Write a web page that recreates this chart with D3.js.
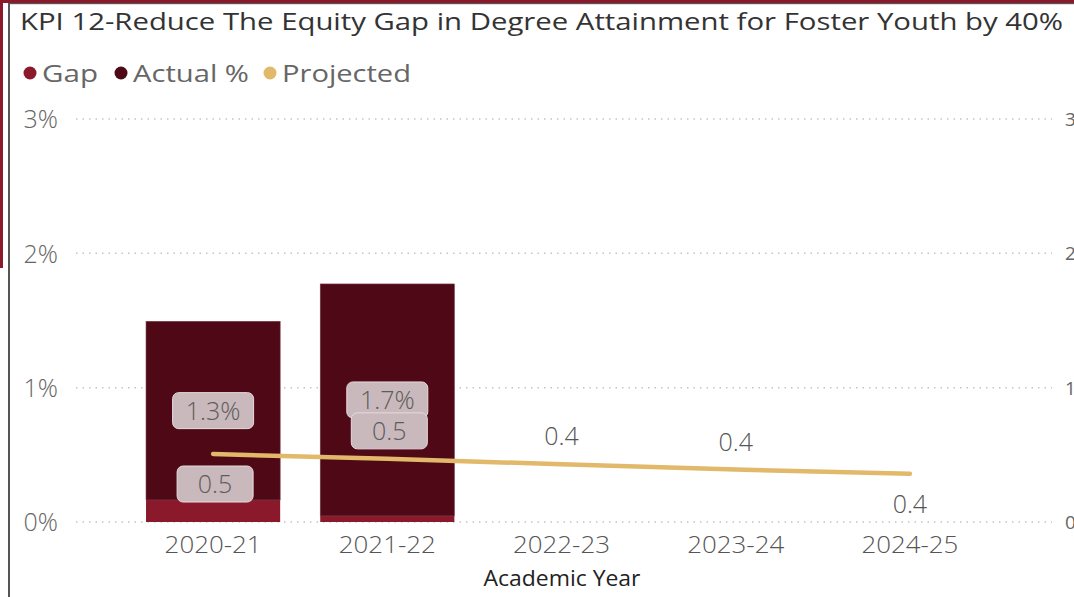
<!DOCTYPE html>
<html><head><meta charset="utf-8">
<script src="https://cdn.jsdelivr.net/npm/d3@7"></script>
<style>
html,body{margin:0;padding:0;background:#fff;}
svg{display:block;}
text{font-family:"Open Sans","Noto Sans",sans-serif;}
</style></head>
<body>
<script>
const categories = ["2020-21","2021-22","2022-23","2023-24","2024-25"];
const gapValues = [0.164, 0.045, null, null, null];
const actualValues = [1.33, 1.727, null, null, null];
const actualLabels = ["1.3%","1.7%",null,null,null];
const projectedValues = [0.506, 0.47, 0.43, 0.39, 0.36];
const projectedLabelPos = ["below","above","above","above","below"];
const yTicks = [0,1,2,3];
const titleText = "KPI 12-Reduce The Equity Gap in Degree Attainment for Foster Youth by 40%";
const legendItems = ["Gap","Actual %","Projected"];
const xAxisTitle = "Academic Year";

const W=1074,H=597;
const colGap="#8a1a2b", colActual="#4f0816", colProj="#e2b86a";
const svg=d3.select("body").append("svg").attr("width",W).attr("height",H);

// frame decorations
svg.append("rect").attr("x",0).attr("y",0).attr("width",W).attr("height",3).attr("fill","#8a1a2b");
svg.append("rect").attr("x",8).attr("y",3).attr("width",W-8).attr("height",1.2).attr("fill","#555");
svg.append("rect").attr("x",0).attr("y",0).attr("width",3).attr("height",268).attr("fill","#8a1a2b");
svg.append("rect").attr("x",8).attr("y",3).attr("width",2).attr("height",H-3).attr("fill","#555");

// title
svg.append("text").attr("x",20).attr("y",30).attr("font-size",24).attr("fill","#333")
  .attr("textLength",1043).attr("lengthAdjust","spacingAndGlyphs").text(titleText);

// legend
const legColors=[colGap,colActual,colProj];
const legX=[30,121,270], legW=[56,116,129];
legendItems.forEach((t,i)=>{
  svg.append("circle").attr("cx",legX[i]).attr("cy",73).attr("r",6.5).attr("fill",legColors[i]);
  svg.append("text").attr("x",legX[i]+12).attr("y",82).attr("font-size",24).attr("fill","#666")
    .attr("textLength",legW[i]).attr("lengthAdjust","spacingAndGlyphs").text(t);
});

// scales
const x=d3.scaleBand().domain(categories).range([126,997]).paddingInner(0.23).paddingOuter(0.115);
const y=d3.scaleLinear().domain([0,3]).range([522,119]);
const y2=d3.scaleLinear().domain([0,3]).range([522,119]);

// gridlines
svg.append("g").selectAll("line").data(yTicks).join("line")
  .attr("x1",76).attr("x2",1052).attr("y1",d=>y(d)).attr("y2",d=>y(d))
  .attr("stroke","#c4c4c4").attr("stroke-width",1.5).attr("stroke-dasharray","1.5,5");

// left axis
const yAxis=d3.axisLeft(y).tickValues(yTicks).tickFormat(d=>d+"%").tickSize(0).tickPadding(0);
const ga=svg.append("g").attr("transform","translate(58,0)").call(yAxis);
ga.select(".domain").remove();
ga.selectAll("text").attr("font-size",25).attr("fill","#666").attr("font-weight",300)
  .attr("font-family","Open Sans, sans-serif").attr("dy","0.35em");

// right axis
const yAxisR=d3.axisRight(y2).tickValues(yTicks).tickFormat(d=>d).tickSize(0).tickPadding(0);
const gr=svg.append("g").attr("transform","translate(1065,0)").call(yAxisR);
gr.select(".domain").remove();
gr.selectAll("text").attr("font-size",19).attr("fill","#666").attr("dy","0.35em");

// bars
const rows=categories.map((c,i)=>({c,gap:gapValues[i],act:actualValues[i],lab:actualLabels[i],proj:projectedValues[i],pos:projectedLabelPos[i]}));
const barRows=rows.filter(r=>r.gap!=null);
svg.append("g").selectAll("rect").data(barRows).join("rect")
  .attr("x",d=>x(d.c)).attr("width",x.bandwidth())
  .attr("y",d=>y(d.gap)).attr("height",d=>y(0)-y(d.gap)).attr("fill",colGap);
svg.append("g").selectAll("rect").data(barRows).join("rect")
  .attr("x",d=>x(d.c)).attr("width",x.bandwidth())
  .attr("y",d=>y(d.gap+d.act)).attr("height",d=>y(d.gap)-y(d.gap+d.act)).attr("fill",colActual)
  .attr("stroke","#7a3a47").attr("stroke-width",0.6);

// projected line
const cx=c=>x(c)+x.bandwidth()/2;
const line=d3.line().x(d=>cx(d.c)).y(d=>y2(d.proj));
svg.append("path").datum(rows).attr("d",line).attr("fill","none")
  .attr("stroke",colProj).attr("stroke-width",4.5).attr("stroke-linecap","round");

// label boxes helper
function boxLabel(cxp,cy,txt,w){
  const g=svg.append("g");
  g.append("rect").attr("x",cxp-w/2).attr("y",cy-18).attr("width",w).attr("height",36).attr("rx",6)
    .attr("fill","#c9b8bc").attr("stroke","#e6dcde").attr("stroke-width",1);
  g.append("text").attr("x",cxp).attr("y",cy).attr("dy","0.36em").attr("text-anchor","middle")
    .attr("font-size",25).attr("font-weight",300).attr("fill","#5d5d5d").text(txt);
}
// actual labels (segment centers)
barRows.forEach(r=>{
  const cy=(y(r.gap)+y(r.gap+r.act))/2;
  boxLabel(cx(r.c),cy,r.lab,81);
});
// projected labels
rows.forEach(r=>{
  const py=y2(r.proj);
  const ly= r.pos==="above" ? py-28 : py+30;
  const txt=d3.format(".1f")(r.proj);
  if(r.gap!=null){ boxLabel(cx(r.c)+2,ly,txt,76); }
  else{
    svg.append("text").attr("x",cx(r.c)).attr("y",ly).attr("dy","0.36em").attr("text-anchor","middle")
      .attr("font-size",25).attr("font-weight",300).attr("fill","#555").text(txt);
  }
});

// x axis
const xAxis=d3.axisBottom(x).tickSize(0).tickPadding(0);
const gx=svg.append("g").attr("transform","translate(0,536)").call(xAxis);
gx.select(".domain").remove();
gx.selectAll("text").attr("font-size",24).attr("fill","#555").attr("font-family","Roboto, sans-serif")
  .attr("font-weight",300).attr("dy","0.71em").attr("textLength",97).attr("lengthAdjust","spacingAndGlyphs");

svg.append("text").attr("x",562).attr("y",586).attr("text-anchor","middle").attr("font-size",21)
  .attr("fill","#222").attr("font-family","Roboto, sans-serif").attr("textLength",157)
  .attr("lengthAdjust","spacingAndGlyphs").text(xAxisTitle);
</script>
</body></html>
